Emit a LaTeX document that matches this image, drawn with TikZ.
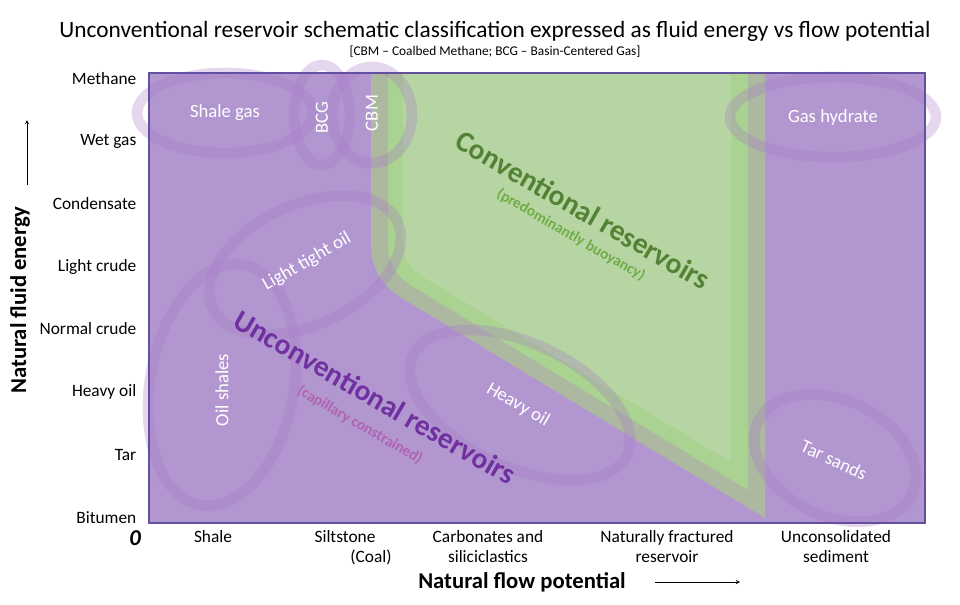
\documentclass[tikz,border=0pt]{standalone}
\usepackage{fontspec}
\setmainfont{Carlito}
\usepackage{xcolor}
\definecolor{lila}{RGB}{178, 150, 208}
\definecolor{lilaBorde}{RGB}{100, 80, 160}
\definecolor{lilaAnillo}{RGB}{168, 122, 200}
\definecolor{lilaOscuro}{RGB}{112, 48, 160}
\definecolor{rosaLila}{RGB}{176, 100, 176}
\definecolor{verde}{RGB}{182, 213, 163}
\definecolor{verdeClaro}{RGB}{170, 210, 145}
\definecolor{verdeOscuro}{RGB}{84, 130, 53}
\definecolor{verdeTexto}{RGB}{112, 173, 71}
\definecolor{grisVerde}{RGB}{172, 184, 160}
\usetikzlibrary{arrows,shapes,calc,positioning}
\tikzstyle{ring}=[draw=lilaAnillo, line width=8pt, draw opacity=0.3]
\tikzstyle{tag}=[text=white, font=\fontsize{14}{16}\selectfont]
\tikzstyle{ylab}=[anchor=east, font=\fontsize{13}{15}\selectfont]
\tikzstyle{xlab}=[anchor=north, align=center, font=\fontsize{13}{15}\selectfont]
\begin{document}
\begin{tikzpicture}[x=0.75pt,y=-0.75pt]
    \useasboundingbox (0,0) rectangle (960,604);

    % plot area
    \fill[lila] (149,73) rectangle (925,523);
    \fill[grisVerde] (371,73) -- (371,245) to[out=-90,in=150] (405,300)
        -- (765,518) -- (765,73) -- cycle;
    \fill[verdeClaro] (388,73) -- (388,245) to[out=-90,in=150] (415,288)
        -- (748,490) -- (748,73) -- cycle;
    \fill[verde] (403,73) -- (403,243) to[out=-90,in=150] (428,280)
        -- (731,462) -- (731,73) -- cycle;

    % rings
    \draw[ring] (225,113) ellipse (88 and 40);
    \draw[ring] (322,115) ellipse (28 and 50);
    \draw[ring] (372,115) ellipse (40 and 48);
    \draw[ring] (833,117) ellipse (103 and 40);
    \draw[ring,rotate around={25:(305,265)}] (305,265) ellipse (102 and 60);
    \draw[ring,rotate around={-10:(222,385)}] (222,385) ellipse (72 and 122);
    \draw[ring,rotate around={-25:(520,405)}] (520,405) ellipse (118 and 62);
    \draw[ring,rotate around={-25:(835,458)}] (835,458) ellipse (85 and 58);
    \draw[lilaBorde, line width=0.8pt] (149,73) rectangle (925,523);

    % region labels
    \node (shale) [tag] at (225,113) {Shale gas};
    \node (bcg) [tag, rotate=90] at (322,118) {BCG};
    \node (cbm) [tag, rotate=90] at (372,113) {CBM};
    \node (hydrate) [tag] at (833,118) {Gas hydrate};
    \node (lto) [tag, rotate=30] at (307,262) {Light tight oil};
    \node (oilsh) [tag, rotate=90] at (222,390) {Oil shales};
    \node (heavy) [tag, rotate=-30] at (518,405) {Heavy oil};
    \node (tar) [tag, rotate=-25] at (834,460) {Tar sands};

    \node (conv) [text=verdeOscuro, rotate=-30, font=\bfseries\fontsize{22}{26}\selectfont] at (583,210) {Conventional reservoirs};
    \node (convsub) [text=verdeTexto, rotate=-30, font=\bfseries\fontsize{11.5}{13}\selectfont] at (571,235) {(predominantly buoyancy)};
    \node (unconv) [text=lilaOscuro, rotate=-30, font=\bfseries\fontsize{22}{26}\selectfont] at (375,397) {Unconventional reservoirs};
    \node (unconvsub) [text=rosaLila, rotate=-30, font=\bfseries\fontsize{11.5}{13}\selectfont] at (360,425) {(capillary constrained)};

    % axes
    \foreach \t/\y in {Methane/79,Wet gas/141,Condensate/204,Light crude/267,
        Normal crude/329,Heavy oil/392,Tar/455,Bitumen/518}
        \node (y\y) [ylab] at (141,\y) {\t};
    \foreach \t/\x in {Shale/213,Siltstone\\\hspace*{3em}(Coal)/345,Carbonates and\\siliciclastics/488,
        Naturally fractured\\reservoir/667,Unconsolidated\\sediment/836}
        \node (x\x) [xlab] at (\x,526) {\t};
    \node (zero) [font=\bfseries\itshape\fontsize{17}{20}\selectfont] at (135,538) {0};

    \node (xtitle) [font=\bfseries\fontsize{17}{20}\selectfont] at (522,582) {Natural flow potential};
    \coordinate (xa) at (655,582);
    \coordinate (xb) at (740,582);
    \draw[->,>=stealth] (xa) -- (xb);
    \node (ytitle) [rotate=90, font=\bfseries\fontsize{17}{20}\selectfont] at (20,300) {Natural fluid energy};
    \coordinate (ya) at (27,185);
    \coordinate (yb) at (27,120);
    \draw[->,>=stealth] (ya) -- (yb);

    \node (title) [font=\fontsize{17.5}{21}\selectfont] at (495,31) {Unconventional reservoir schematic classification expressed as fluid energy vs flow potential};
    \node (sub) [font=\fontsize{10}{12}\selectfont] at (495,52) {[CBM -- Coalbed Methane; BCG -- Basin-Centered Gas]};
\end{tikzpicture}
\end{document}
